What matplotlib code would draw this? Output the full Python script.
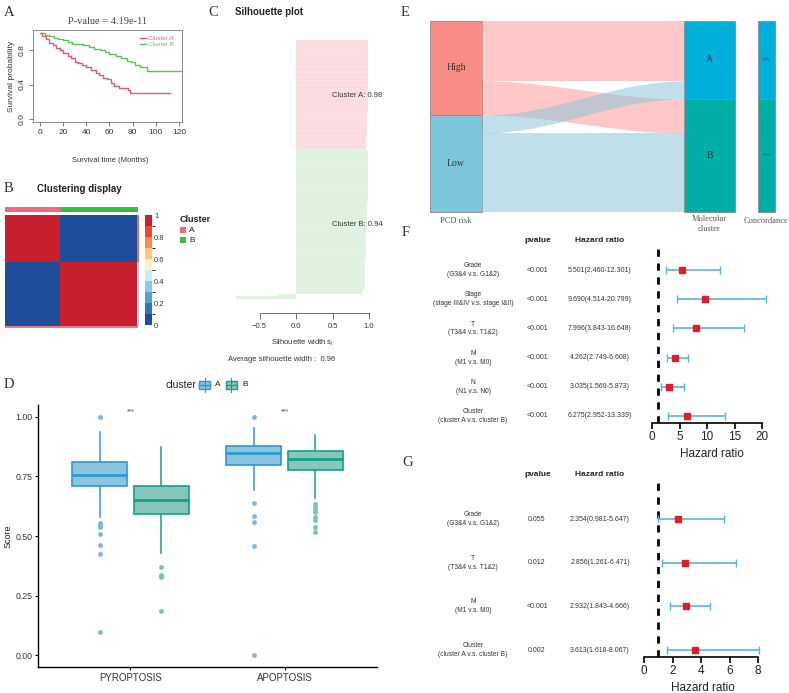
import numpy as np
import matplotlib
matplotlib.use('Agg')
import matplotlib.pyplot as plt
from matplotlib.patches import Rectangle
from matplotlib.colors import ListedColormap, BoundaryNorm
import matplotlib.transforms as mtrans
import matplotlib as mpl

plt.rcParams['font.family'] = ['Liberation Sans', 'DejaVu Sans']
SERIF = ['Liberation Serif', 'DejaVu Serif']

# ---------------- data ----------------
# A: Kaplan-Meier
km_A_time = [0, 2, 5, 8, 11, 14, 17, 20, 24, 27, 30, 33, 36, 40, 44, 48, 51, 54, 58, 61, 64, 68, 76, 78, 112]
km_A_surv = [1.0, 0.97, 0.93, 0.89, 0.86, 0.83, 0.80, 0.77, 0.74, 0.71, 0.67, 0.65, 0.63, 0.60, 0.57, 0.54, 0.51, 0.48, 0.46, 0.42, 0.38, 0.36, 0.33, 0.30, 0.30]
km_B_time = [0, 4, 8, 12, 16, 20, 24, 28, 32, 37, 42, 47, 52, 56, 60, 66, 70, 75, 79, 82, 86, 92, 122]
km_B_surv = [1.0, 0.98, 0.97, 0.95, 0.93, 0.92, 0.90, 0.88, 0.87, 0.86, 0.84, 0.82, 0.80, 0.78, 0.76, 0.74, 0.71, 0.68, 0.66, 0.63, 0.60, 0.56, 0.56]
km_pvalue = "4.19e-11"

# B: consensus clustering
n_cluster_A = 42
n_cluster_B = 58
cbar_ticks = [0, 0.2, 0.4, 0.6, 0.8, 1]
cbar_ticklabels = ['0', '0.2', '0.4', '0.6', '0.8', '1']

# C: silhouette widths
sil_A = [0.99, 0.99, 0.99, 0.99, 0.99, 0.99, 0.99, 0.99, 0.99, 0.99,
         0.98, 0.98, 0.98, 0.98, 0.98, 0.98, 0.98, 0.98, 0.98, 0.98,
         0.98, 0.98, 0.98, 0.98, 0.98, 0.98, 0.98, 0.98, 0.97, 0.97,
         0.97, 0.97, 0.97, 0.97, 0.97, 0.97, 0.97, 0.97, 0.96, 0.96,
         0.96, 0.96, 0.96]
sil_B = [0.99, 0.99, 0.99, 0.99, 0.99, 0.99, 0.99, 0.99, 0.98, 0.98,
         0.98, 0.98, 0.98, 0.98, 0.98, 0.98, 0.98, 0.98, 0.98, 0.98,
         0.97, 0.97, 0.97, 0.97, 0.97, 0.97, 0.97, 0.97, 0.97, 0.97,
         0.97, 0.97, 0.96, 0.96, 0.96, 0.96, 0.96, 0.96, 0.96, 0.96,
         0.96, 0.96, 0.95, 0.95, 0.95, 0.95, 0.95, 0.95, 0.95, 0.95,
         0.94, 0.94, 0.94, 0.94, 0.92, 0.90, -0.25, -0.82]
sil_avg_A = 0.98
sil_avg_B = 0.94
sil_avg = 0.96

# D: boxplots
box_groups = ['PYROPTOSIS', 'APOPTOSIS']
A_q1 = [0.711, 0.798]
A_med = [0.756, 0.850]
A_q3 = [0.812, 0.878]
A_lo = [0.581, 0.693]
A_hi = [0.936, 0.952]
A_out_pyro = [1.0, 0.553, 0.546, 0.539, 0.51, 0.462, 0.424, 0.095]
A_out_apo = [1.0, 0.637, 0.584, 0.56, 0.458, 0.0]
B_q1 = [0.592, 0.777]
B_med = [0.652, 0.822]
B_q3 = [0.710, 0.858]
B_lo = [0.427, 0.658]
B_hi = [0.875, 0.924]
B_out_pyro = [0.371, 0.336, 0.326, 0.185]
B_out_apo = [0.634, 0.623, 0.611, 0.602, 0.581, 0.567, 0.539, 0.515]

# E: alluvial counts
flow_high_A = 60
flow_high_B = 34
flow_low_A = 18
flow_low_B = 79

# F: univariate Cox
F_vars = ['Grade\n(G3&4 v.s. G1&2)', 'Stage\n(stage III&IV v.s. stage I&II)', 'T\n(T3&4 v.s. T1&2)',
          'M\n(M1 v.s. M0)', 'N\n(N1 v.s. N0)', 'Cluster\n(cluster A v.s. cluster B)']
F_p = ['<0.001', '<0.001', '<0.001', '<0.001', '<0.001', '<0.001']
F_hr = [5.501, 9.690, 7.996, 4.262, 3.035, 6.275]
F_lo = [2.460, 4.514, 3.843, 2.749, 1.569, 2.952]
F_hi = [12.301, 20.799, 16.648, 6.608, 5.873, 13.339]
F_ticks = [0, 5, 10, 15, 20]

# G: multivariate Cox
G_vars = ['Grade\n(G3&4 v.s. G1&2)', 'T\n(T3&4 v.s. T1&2)', 'M\n(M1 v.s. M0)', 'Cluster\n(cluster A v.s. cluster B)']
G_p = ['0.055', '0.012', '<0.001', '0.002']
G_hr = [2.354, 2.856, 2.932, 3.613]
G_lo = [0.981, 1.261, 1.843, 1.618]
G_hi = [5.647, 6.471, 4.666, 8.067]
G_ticks = [0, 2, 4, 6, 8]

# ---------------- figure ----------------
W, H = 789, 693
fig = plt.figure(figsize=(W / 100, H / 100), dpi=100)


def pax(x0, y0, x1, y1):
    return fig.add_axes([x0 / W, 1 - y1 / H, (x1 - x0) / W, (y1 - y0) / H])


def ftext(x, y, s, **kw):
    kw.setdefault('va', 'center')
    return fig.text(x / W, 1 - y / H, s, **kw)


def frect(x, y, w, h, **kw):
    fig.patches.append(Rectangle((x / W, 1 - (y + h) / H), w / W, h / H,
                                 transform=fig.transFigure, **kw))


# panel letters
for lab, (x, y) in {'A': (4, 12), 'B': (4, 188), 'C': (208, 12), 'D': (4, 384),
                    'E': (401, 12), 'F': (402, 232), 'G': (402, 463)}.items():
    ftext(x, y, lab, family=SERIF, fontsize=10.5, color='#333333')

# ---------- A ----------
axA = pax(33, 30, 182, 122)
axA.step(km_A_time, km_A_surv, where='post', color='#E8557A', lw=1.0, label='Cluster A')
axA.step(km_B_time, km_B_surv, where='post', color='#5BC25B', lw=1.0, label='Cluster B')
axA.set_xlim(-6, 122.6)
axA.set_ylim(-0.04, 1.04)
axA.set_xticks([0, 20, 40, 60, 80, 100, 120])
axA.set_yticks([0, 0.4, 0.8])
axA.set_yticklabels(['0.0', '0.4', '0.8'], rotation=90, va='center')
axA.tick_params(length=3, width=0.6, labelsize=6, color='#666666', labelcolor='#333333', pad=2)
for s in axA.spines.values():
    s.set_linewidth(0.6)
    s.set_color('#777777')
axA.set_ylabel('Survival probability', fontsize=6, color='#333333', labelpad=3)
leg = axA.legend(loc='upper right', bbox_to_anchor=(0.98, 1.0), frameon=False,
                 handlelength=1.0, handletextpad=0.2, labelspacing=0.15,
                 prop={'style': 'italic', 'size': 4.5})
for t, c in zip(leg.get_texts(), ['#E8557A', '#5BC25B']):
    t.set_color(c)
ftext(108, 21, 'P-value = ' + km_pvalue, family=SERIF, fontsize=7.5, color='#444444', ha='center')
ftext(110, 160, 'Survival time (Months)', fontsize=5.5, color='#333333', ha='center')

# ---------- B ----------
ftext(37, 189, 'Clustering display', fontsize=7, fontweight='bold', color='#222222')
labels_vec = np.array([0] * n_cluster_A + [1] * n_cluster_B)
axAnn = pax(5, 207, 138, 212)
axAnn.imshow(labels_vec[None, :], aspect='auto', cmap=ListedColormap(['#F0697F', '#3DB94A']),
             interpolation='nearest')
axAnn.axis('off')
cons = (labels_vec[:, None] == labels_vec[None, :]).astype(float)
hm_colors = ['#1E4D9B', '#2A7AB9', '#4DA3D3', '#8CC7E3', '#CFE9F3', '#FFF1B8',
             '#FDC77B', '#F98C4A', '#EC4A2C', '#C81F2E']
hm_cmap = ListedColormap(hm_colors)
hm_norm = BoundaryNorm(np.linspace(0, 1, 11), 10)
axHM = pax(5, 215, 137, 326)
axHM.imshow(cons, aspect='auto', cmap=hm_cmap, norm=hm_norm, interpolation='nearest')
axHM.axis('off')
# thin borders
frect(137, 215, 1.5, 47, facecolor='#F26B45', edgecolor='none')
frect(137, 262, 1.5, 64, facecolor='#9FD3E8', edgecolor='none')
frect(5, 326, 133, 1.5, facecolor='#F2787F', edgecolor='none')
cax = pax(145, 215, 152, 325)
cb = mpl.colorbar.ColorbarBase(cax, cmap=hm_cmap, norm=hm_norm, ticks=cbar_ticks)
cb.set_ticklabels(cbar_ticklabels)
cb.outline.set_visible(False)
cax.tick_params(length=0, labelsize=5.5, pad=1.5, labelcolor='#333333')
ftext(180, 220, 'Cluster', fontsize=6.5, fontweight='bold', color='#222222')
frect(180, 227, 6, 6, facecolor='#F0697F', edgecolor='none')
frect(180, 237, 6, 6, facecolor='#3DB94A', edgecolor='none')
ftext(189, 230, 'A', fontsize=6, color='#222222')
ftext(189, 240, 'B', fontsize=6, color='#222222')

# ---------- C ----------
ftext(235, 12, 'Silhouette plot', fontsize=7, fontweight='bold', color='#222222')
sil = sil_A + sil_B
n_sil = len(sil)
sil_cols = ['#FBD8DD'] * len(sil_A) + ['#DDF1DC'] * len(sil_B)
axC = pax(236, 40, 380, 299)
axC.barh(np.arange(1, n_sil + 1), sil, height=1.0, color=sil_cols, edgecolor='white', linewidth=0.15)
axC.set_xlim((236 - 296) / 73, (380 - 296) / 73)
axC.set_ylim(n_sil + 0.5, 0.5)
for s in ['left', 'right', 'top']:
    axC.spines[s].set_visible(False)
axC.spines['bottom'].set_position(('outward', 10))
axC.spines['bottom'].set_bounds(-0.5, 1.0)
axC.spines['bottom'].set_color('#555555')
axC.spines['bottom'].set_linewidth(0.6)
axC.set_yticks([])
axC.set_xticks([-0.5, 0, 0.5, 1.0])
axC.set_xticklabels(['\u22120.5', '0.0', '0.5', '1.0'])
axC.tick_params(axis='x', length=4, width=0.6, color='#555555', labelsize=5.5, labelcolor='#333333', pad=3)
axC.text(0.49, (len(sil_A) + 1) / 2, 'Cluster A: %.2f' % sil_avg_A, fontsize=5.5, va='center', color='#333333')
axC.text(0.49, len(sil_A) + (len(sil_B) + 1) / 2, 'Cluster B: %.2f' % sil_avg_B, fontsize=5.5, va='center', color='#333333')
ftext(302, 343, 'Silhouette width $\\mathregular{s_i}$', fontsize=5.5, ha='center', color='#333333')
ftext(282, 360, 'Average silhouette width :  %.2f' % sil_avg, fontsize=5.5, ha='center', color='#333333')

# ---------- D ----------
colA_edge, colA_fill, colA_pt = '#2A9BD0', '#8CC3DE', '#7FB8DA'
colB_edge, colB_fill, colB_pt = '#12A08E', '#87C7B9', '#7CC2B5'
axD = pax(38, 405, 377, 667)
statsA, statsB = [], []
for i, outs in enumerate([A_out_pyro, A_out_apo]):
    statsA.append(dict(med=A_med[i], q1=A_q1[i], q3=A_q3[i], whislo=A_lo[i], whishi=A_hi[i], fliers=outs))
for i, outs in enumerate([B_out_pyro, B_out_apo]):
    statsB.append(dict(med=B_med[i], q1=B_q1[i], q3=B_q3[i], whislo=B_lo[i], whishi=B_hi[i], fliers=outs))
xpos = np.arange(1, len(box_groups) + 1)
for stats, off, ce, cf, cp in [(statsA, -0.2, colA_edge, colA_fill, colA_pt),
                               (statsB, 0.2, colB_edge, colB_fill, colB_pt)]:
    axD.bxp(stats, positions=xpos + off, widths=0.36, patch_artist=True, showcaps=False,
            boxprops=dict(facecolor=cf, edgecolor=ce, linewidth=1.2),
            medianprops=dict(color=ce, linewidth=2.0),
            whiskerprops=dict(color=ce, linewidth=1.1),
            flierprops=dict(marker='o', markerfacecolor=cp, markeredgecolor='none', markersize=3.5))
axD.set_xlim(0.4, 2.6)
axD.set_ylim(-0.05, 1.05)
axD.set_xticks(xpos)
axD.set_xticklabels(box_groups)
axD.set_yticks([0, 0.25, 0.5, 0.75, 1.0])
axD.set_yticklabels(['0.00', '0.25', '0.50', '0.75', '1.00'])
axD.tick_params(length=2.5, width=0.8, labelsize=7, labelcolor='#333333', pad=2)
axD.tick_params(axis='y', labelsize=6.3, pad=1.5)
for s in ['top', 'right']:
    axD.spines[s].set_visible(False)
for s in ['left', 'bottom']:
    axD.spines[s].set_linewidth(1.0)
ftext(8, 536, 'Score', fontsize=6.5, rotation=90, ha='center', color='#222222')
for x in xpos:
    axD.text(x, 1.02, '***', ha='center', va='center', fontsize=5, color='#444444')
# legend
ftext(181, 385, 'cluster', fontsize=7.5, ha='center', color='#222222')
for x0, ce, cf, lab in [(199, colA_edge, colA_fill, 'A'), (226, colB_edge, colB_fill, 'B')]:
    frect(x0, 381, 11, 8, facecolor=cf, edgecolor=ce, linewidth=1.0)
    fig.lines.append(plt.Line2D([(x0 + 5.5) / W] * 2, [1 - 378 / H, 1 - 392 / H], transform=fig.transFigure,
                                color=ce, lw=0.8))
    fig.lines.append(plt.Line2D([x0 / W, (x0 + 11) / W], [1 - 385 / H] * 2, transform=fig.transFigure,
                                color=ce, lw=1.0))
    ftext(x0 + 16, 385, lab, fontsize=6, ha='left', color='#222222')

# ---------- E ----------
axE = pax(425, 15, 789, 235)
axE.axis('off')
axE.set_xlim(-0.096, 6.904)
axE.set_ylim(-23, 197)
high_tot = flow_high_A + flow_high_B
low_tot = flow_low_A + flow_low_B
A_tot = flow_high_A + flow_low_A
B_tot = flow_high_B + flow_low_B
total = high_tot + low_tot
xL0, xL1 = 0.0, 1.0
xR0, xR1 = 4.885, 5.865
xC0, xC1 = 6.31, 6.63
edge_kw = dict(edgecolor='#8A8A8A', linewidth=0.6)
axE.add_patch(Rectangle((xL0, low_tot), xL1 - xL0, high_tot, facecolor='#F98C85', **edge_kw))
axE.add_patch(Rectangle((xL0, 0), xL1 - xL0, low_tot, facecolor='#7DC5DC', **edge_kw))
axE.add_patch(Rectangle((xR0, B_tot), xR1 - xR0, A_tot, facecolor='#00AFDA', **edge_kw))
axE.add_patch(Rectangle((xR0, 0), xR1 - xR0, B_tot, facecolor='#00AEA6', **edge_kw))
axE.add_patch(Rectangle((xC0, B_tot), xC1 - xC0, A_tot, facecolor='#00AFDA', **edge_kw))
axE.add_patch(Rectangle((xC0, 0), xC1 - xC0, B_tot, facecolor='#00AEA6', **edge_kw))
flows = [
    (total, total, flow_high_A, '#FF9C9C'),
    (total - flow_high_A, B_tot, flow_high_B, '#FF9C9C'),
    (low_tot, B_tot + A_tot - flow_high_A, flow_low_A, '#8CC5DB'),
    (low_tot - flow_low_A, B_tot - flow_high_B, flow_low_B, '#8CC5DB'),
]
t = np.linspace(0, 1, 200)
sm = (1 - np.cos(np.pi * t)) / 2
xs = xL1 + (xR0 - xL1) * t
for ly, ry, sz, col in flows:
    top = ly + (ry - ly) * sm
    axE.fill_between(xs, top - sz, top, color=col, alpha=0.55, linewidth=0)
axE.text((xL0 + xL1) / 2, low_tot + high_tot / 2, 'High', family=SERIF, fontsize=7, ha='center', va='center', color='#333333')
axE.text((xL0 + xL1) / 2, low_tot / 2, 'Low', family=SERIF, fontsize=7, ha='center', va='center', color='#333333')
axE.text((xR0 + xR1) / 2, B_tot + A_tot / 2, 'A', family=SERIF, fontsize=7, ha='center', va='center', color='#333333')
axE.text((xR0 + xR1) / 2, B_tot / 2, 'B', family=SERIF, fontsize=7, ha='center', va='center', color='#333333')
axE.text((xC0 + xC1) / 2, B_tot + A_tot / 2, '%d%%' % round(100 * flow_high_A / A_tot), family=SERIF,
         fontsize=3.5, ha='center', va='center', color='#333333')
axE.text((xC0 + xC1) / 2, B_tot / 2, '%d%%' % round(100 * flow_low_B / B_tot), family=SERIF,
         fontsize=3.5, ha='center', va='center', color='#333333')
axE.text((xL0 + xL1) / 2, -9, 'PCD risk', family=SERIF, fontsize=6, ha='center', va='center', color='#555555')
axE.text((xR0 + xR1) / 2, -12, 'Molecular\ncluster', family=SERIF, fontsize=6, ha='center', va='center',
         color='#555555', linespacing=1.3)
axE.text((xC0 + xC1) / 2, -9, 'Concordance', family=SERIF, fontsize=6, ha='center', va='center', color='#555555')


# ---------- F / G ----------
def forest(box, xmax_px_units, ylim, rows, names, pvals, hr, lo, hi, ticks, bound, header_y, dash_top):
    ax = pax(*box)
    ax.set_xlim(0, xmax_px_units)
    ax.set_ylim(*ylim)
    hr = np.array(hr); lo = np.array(lo); hi = np.array(hi)
    ax.plot([1, 1], [ylim[0], dash_top], color='black', lw=2.0, dashes=(2.6, 2.4), zorder=1)
    ax.errorbar(hr, rows, xerr=[hr - lo, hi - hr], fmt='none', ecolor='#5AB4DA', elinewidth=1.2,
                capsize=3, capthick=1.0, zorder=2, clip_on=False)
    ax.plot(hr, rows, 's', color='#E41A2A', ms=5, zorder=3, clip_on=False)
    for s in ['left', 'right', 'top']:
        ax.spines[s].set_visible(False)
    ax.spines['bottom'].set_bounds(bound[0], bound[1])
    ax.spines['bottom'].set_linewidth(1.2)
    ax.set_yticks([])
    ax.set_xticks(ticks)
    ax.tick_params(axis='x', length=4, width=1.2, labelsize=8.5, pad=1.5, labelcolor='#222222')
    ax.set_xlabel('Hazard ratio', fontsize=8.5, labelpad=4, color='#222222')
    tr = mtrans.blended_transform_factory(fig.transFigure, ax.transData)
    for r, nm, p, h, l, u in zip(rows, names, pvals, hr, lo, hi):
        ax.text(473 / W, r, nm, transform=tr, ha='center', va='center', fontsize=4.8,
                linespacing=1.35, color='#333333')
        ax.text(537 / W, r, p, transform=tr, ha='center', va='center', fontsize=5, color='#333333')
        ax.text(600 / W, r, '%.3f(%.3f-%.3f)' % (h, l, u), transform=tr, ha='center', va='center',
                fontsize=5, color='#333333')
    ftext(538, header_y, 'pvalue', fontsize=6, fontweight='bold', ha='center', color='#222222')
    ftext(600, header_y, 'Hazard ratio', fontsize=6, fontweight='bold', ha='center', color='#222222')
    return ax


forest((652, 245, 772, 423), 120 / 5.5, (0.76, 6.86), [6, 5, 4, 3, 2, 1], F_vars, F_p, F_hr, F_lo, F_hi,
       F_ticks, (0, 20), 241, 6.76)
forest((644, 478, 762, 657), 118 / 14.25, (0.84, 4.94), [4, 3, 2, 1], G_vars, G_p, G_hr, G_lo, G_hi,
       G_ticks, (0, 8), 475, 4.94)

fig.savefig('out.png', dpi=100)
